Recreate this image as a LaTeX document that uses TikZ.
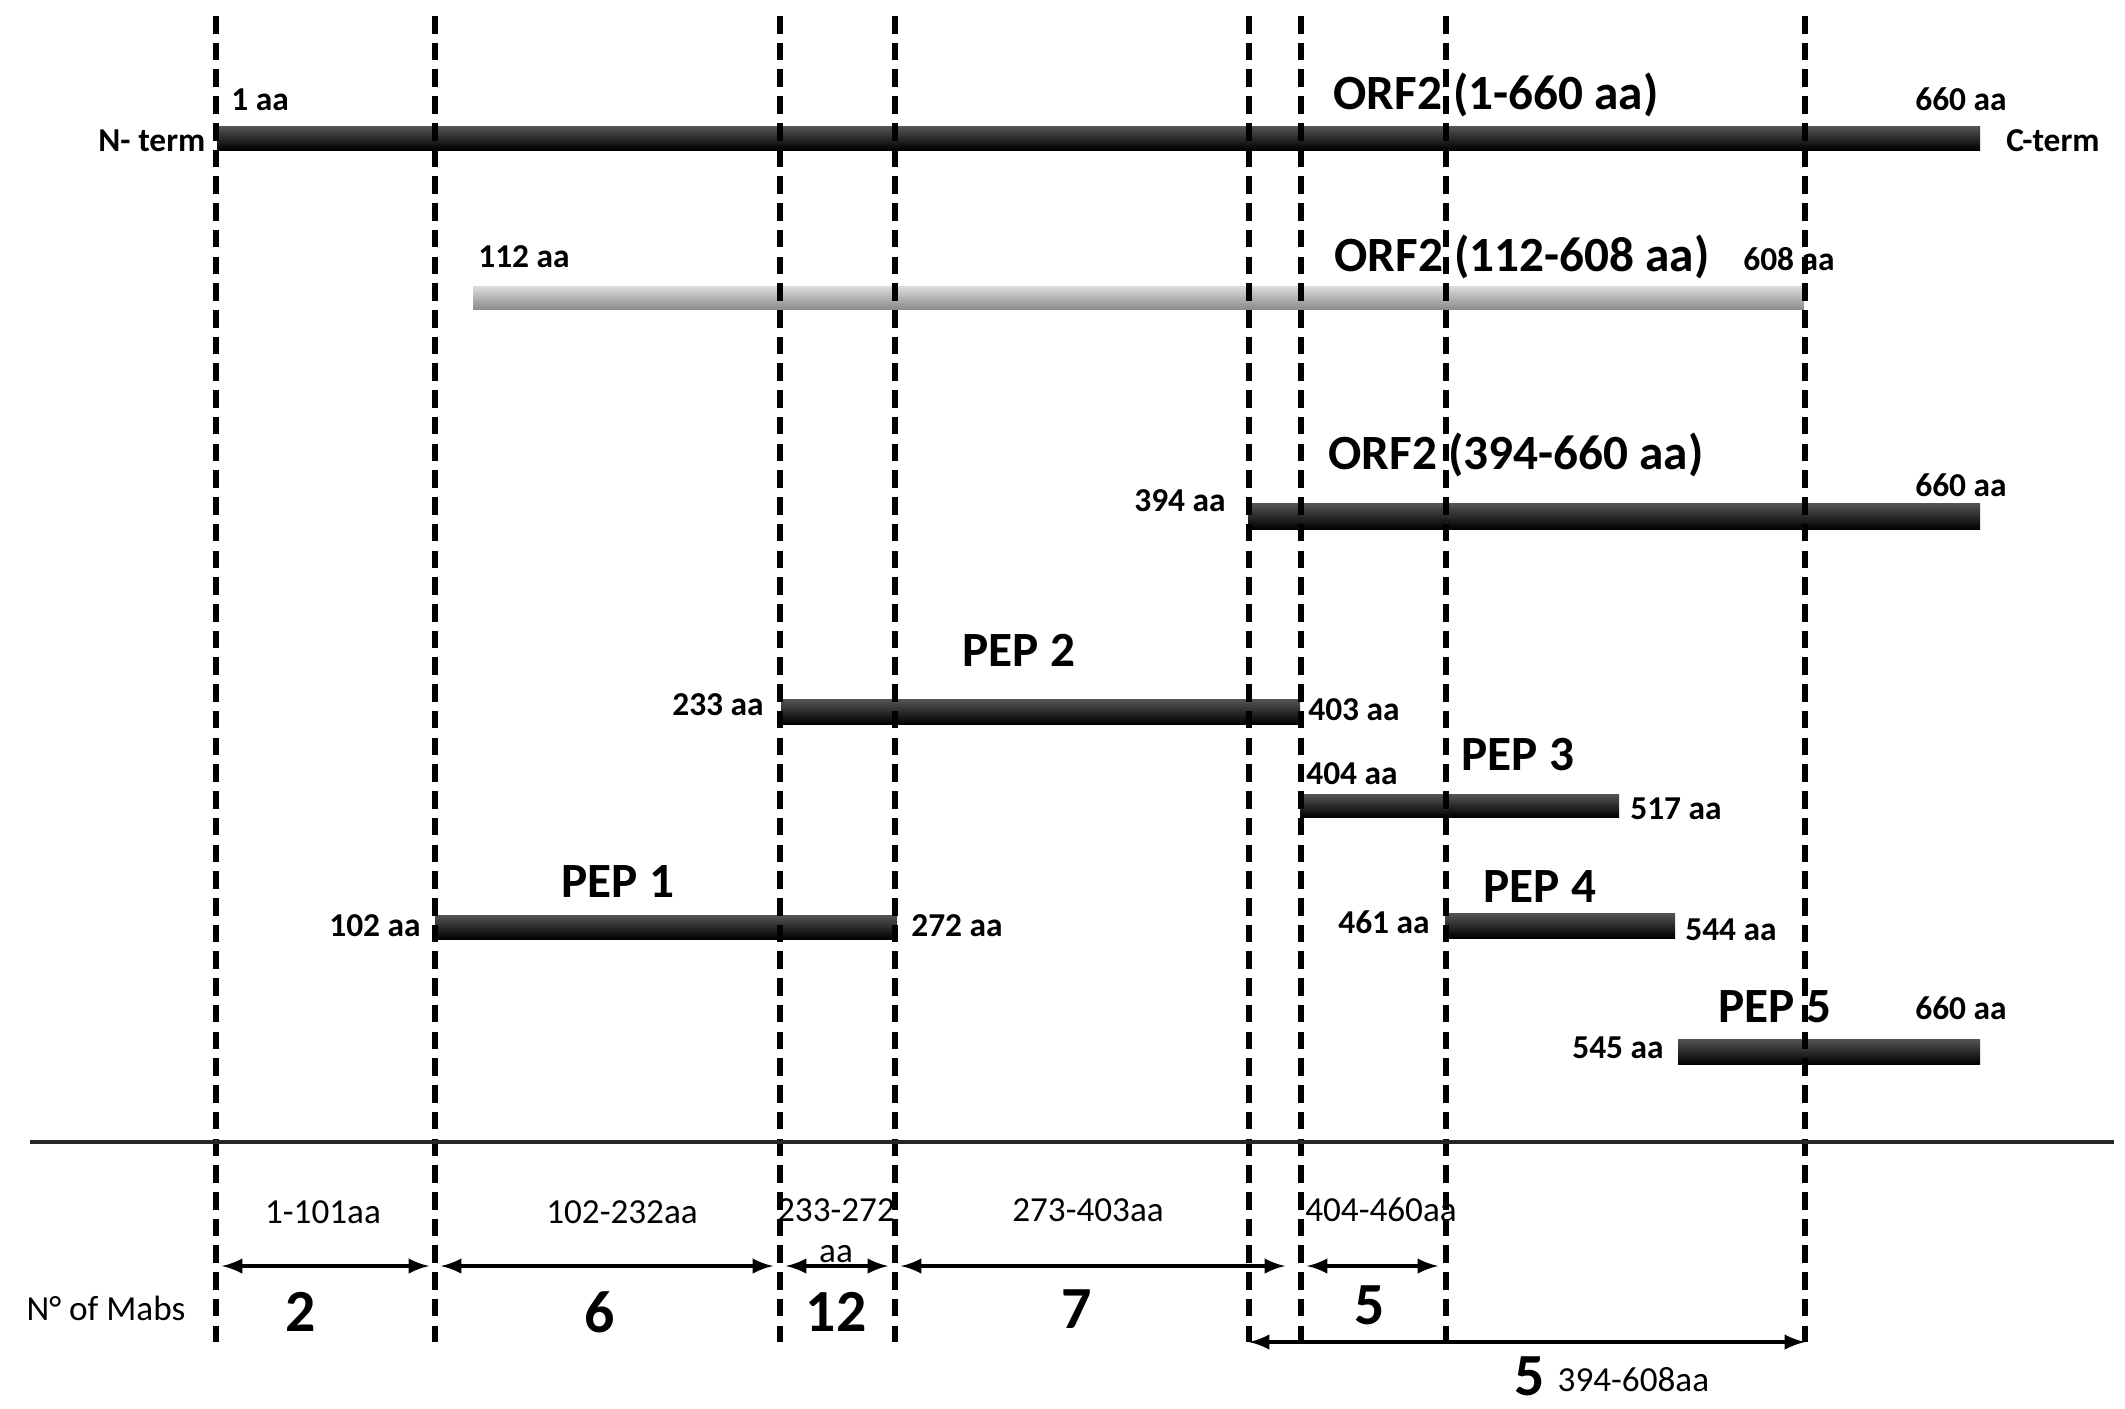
\documentclass[tikz,border=0pt]{standalone}
\usepackage{fontspec}
\setmainfont{Carlito}
\usetikzlibrary{arrows}
\definecolor{barcolor1}{RGB}{85,85,85}
\definecolor{barcolor2}{RGB}{220,220,220}
\definecolor{barcolor3}{RGB}{140,140,140}

\begin{document}
\begin{tikzpicture}[x=0.01cm, y=-0.01cm,
    guideline/.style={line width=1.7pt, dash pattern=on 5pt off 2.6pt},
    darkbar/.style={top color=barcolor1, bottom color=black},
    lightbar/.style={top color=barcolor2, bottom color=barcolor3},
    bartitle/.style={inner sep=0pt, font=\fontsize{14}{16}\selectfont\bfseries},
    aalabel/.style={inner sep=0pt, font=\fontsize{9.5}{11}\selectfont\bfseries},
    rangelabel/.style={inner sep=0pt, font=\fontsize{10}{12}\selectfont},
    mabnum/.style={inner sep=0pt, font=\fontsize{17}{20}\selectfont\bfseries},
    spanarrow/.style={<->, >=latex, line width=1pt}]
                \useasboundingbox (0,0) rectangle (2125,1408);

                % Draw the protein and the peptide bars
                \shade[darkbar] (217,126) rectangle (1980,150);
                \shade[lightbar] (473,286) rectangle (1804,309);
                \shade[darkbar] (1248,503) rectangle (1980,529);
                \shade[darkbar] (781,699) rectangle (1300,724);
                \shade[darkbar] (1300,794) rectangle (1619,817);
                \shade[darkbar] (435,915) rectangle (897,939);
                \shade[darkbar] (1445,913) rectangle (1675,938);
                \shade[darkbar] (1678,1039) rectangle (1980,1064);

                % Draw the dashed region borders
                \foreach \x [count=\i] in {216,435,780,895,1249,1301,1446,1805}
                {
                    \coordinate (top\i) at (\x,16);
                    \coordinate (bot\i) at (\x,1342);
                    \draw[guideline] (top\i) -- (bot\i);
                }

                \coordinate (hl) at (30,1142);
                \coordinate (hr) at (2114,1142);
                \draw[line width=1.2pt, black!85] (hl) -- (hr);

                % Labels of the bars
                \node[aalabel, anchor=east] (nterm) at (206,141) {N- term};
                \node[aalabel] (orfa1) at (260,100) {1 aa};
                \node[bartitle] (orfa) at (1496,95) {ORF2 (1-660 aa)};
                \node[aalabel] (orfa2) at (1961,99) {660 aa};
                \node[aalabel] (cterm) at (2053,141) {C-term};

                \node[aalabel] (orfb1) at (524,257) {112 aa};
                \node[bartitle] (orfb) at (1522,257) {ORF2 (112-608 aa)};
                \node[aalabel] (orfb2) at (1789,259) {608 aa};

                \node[bartitle] (orfc) at (1516,455) {ORF2 (394-660 aa)};
                \node[aalabel] (orfc1) at (1180,501) {394 aa};
                \node[aalabel] (orfc2) at (1961,485) {660 aa};

                \node[bartitle] (pep2) at (1019,650) {PEP 2};
                \node[aalabel] (pep2a) at (718,705) {233 aa};
                \node[aalabel] (pep2b) at (1354,710) {403 aa};

                \node[bartitle] (pep3) at (1518,755) {PEP 3};
                \node[aalabel] (pep3a) at (1352,774) {404 aa};
                \node[aalabel] (pep3b) at (1676,809) {517 aa};

                \node[bartitle] (pep1) at (618,881) {PEP 1};
                \node[aalabel] (pep1a) at (375,926) {102 aa};
                \node[aalabel] (pep1b) at (957,926) {272 aa};

                \node[bartitle] (pep4) at (1540,886) {PEP 4};
                \node[aalabel] (pep4a) at (1384,922) {461 aa};
                \node[aalabel] (pep4b) at (1731,930) {544 aa};

                \node[bartitle] (pep5) at (1775,1007) {PEP 5};
                \node[aalabel] (pep5a) at (1618,1048) {545 aa};
                \node[aalabel] (pep5b) at (1961,1008) {660 aa};

                % Regions and number of Mabs
                \foreach \l/\r [count=\i] in {222/429, 441/773, 786/888, 901/1285, 1307/1438}
                {
                    \coordinate (al\i) at (\l,1266);
                    \coordinate (ar\i) at (\r,1266);
                    \draw[spanarrow] (al\i) -- (ar\i);
                }
                \draw[spanarrow] (bot5) -- (bot8);

                \node[rangelabel] (reg1) at (323,1212) {1-101aa};
                \node[rangelabel] (reg2) at (622,1212) {102-232aa};
                \node[rangelabel] (reg3) at (836,1210) {233-272};
                \node[rangelabel] (reg3b) at (836,1254) {aa};
                \node[rangelabel] (reg4) at (1088,1210) {273-403aa};
                \node[rangelabel] (reg5) at (1381,1210) {404-460aa};

                \node[rangelabel] (mabs) at (106,1308) {N° of Mabs};
                \node[mabnum] (n1) at (301,1312) {2};
                \node[mabnum] (n2) at (600,1312) {6};
                \node[mabnum] (n3) at (836,1312) {12};
                \node[mabnum] (n4) at (1077,1309) {7};
                \node[mabnum] (n5) at (1370,1305) {5};
                \node[mabnum] (n6) at (1530,1376) {5};
                \node[rangelabel, anchor=west] (reg6) at (1557,1380) {394-608aa};
            \end{tikzpicture}
\end{document}
